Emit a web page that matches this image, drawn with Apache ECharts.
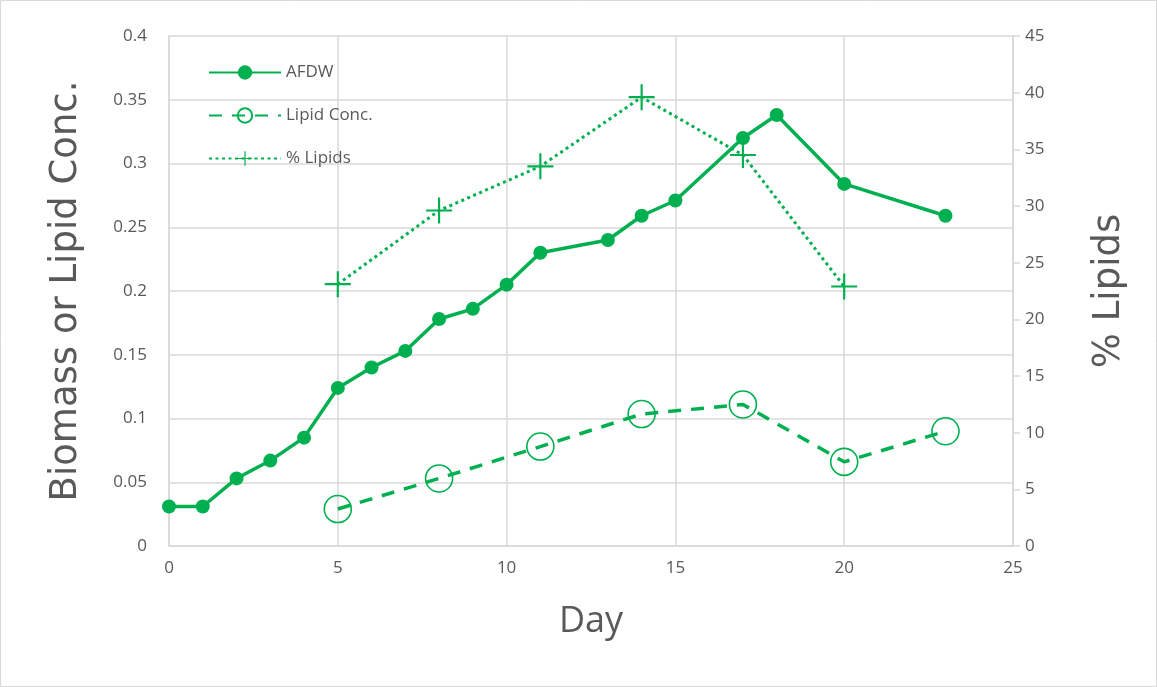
<!DOCTYPE html>
<html><head><meta charset="utf-8">
<script src="https://cdn.jsdelivr.net/npm/echarts@6/dist/echarts.min.js"></script>
<style>html,body{margin:0;padding:0;background:#fff}#c{width:1157px;height:687px}</style>
</head><body><div id="c"></div>
<script>
const afdwDays = [0,1,2,3,4,5,6,7,8,9,10,11,13,14,15,17,18,20,23];
const afdwVals = [0.031,0.031,0.053,0.067,0.085,0.124,0.140,0.153,0.178,0.186,0.205,0.230,0.240,0.259,0.271,0.320,0.338,0.284,0.259];
const lipidDays = [5,8,11,14,17,20,23];
const lipidConc = [0.029,0.053,0.078,0.1035,0.111,0.066,0.090];
const pctDays = [5,8,11,14,17,20];
const pctLipids = [23.1,29.6,33.5,39.6,34.5,22.9];
const xTicks = {min:0,max:25,interval:5};
const yLeft = {min:0,max:0.4,interval:0.05};
const yRight = {min:0,max:45,interval:5};

const green = '#00B050';
const grey = '#595959';
const gridCol = '#d9d9d9';
const pair = (xs, ys) => xs.map((x,i)=>[x, ys[i]]);
const crossPath = 'path://M-1,-12 L1,-12 L1,12 L-1,12 Z M-12,-1 L12,-1 L12,1 L-12,1 Z';

const chart = echarts.init(document.getElementById('c'), null, {renderer:'canvas'});
chart.setOption({
  animation:false,
  backgroundColor:'#fff',
  textStyle:{fontFamily:'Open Sans'},
  graphic:[{type:'rect',shape:{x:0.5,y:0.5,width:1156,height:686},style:{fill:'none',stroke:'#d9d9d9',lineWidth:1}}],
  grid:{left:169,right:144,top:36,bottom:141},
  legend:{
    orient:'vertical', left:203, top:59, itemGap:26, itemWidth:72, itemHeight:18,
    textStyle:{color:grey,fontSize:17,fontFamily:'Open Sans'},
    data:['AFDW','Lipid Conc.','% Lipids']
  },
  xAxis:{
    type:'value', min:xTicks.min, max:xTicks.max, interval:xTicks.interval,
    name:'Day', nameLocation:'middle', nameGap:58,
    nameTextStyle:{color:grey,fontSize:36,fontFamily:'Open Sans'},
    axisLine:{show:true,lineStyle:{color:gridCol,width:1.5}},
    axisTick:{show:false},
    axisLabel:{color:grey,fontSize:17,margin:14},
    splitLine:{show:true,lineStyle:{color:gridCol,width:1.5}}
  },
  yAxis:[{
    type:'value', min:yLeft.min, max:yLeft.max, interval:yLeft.interval,
    name:'Biomass or Lipid Conc.', nameLocation:'middle', nameGap:84,
    nameTextStyle:{color:grey,fontSize:37,fontFamily:'DejaVu Sans'},
    axisLine:{show:true,lineStyle:{color:gridCol,width:1.5}},
    axisTick:{show:false},
    axisLabel:{color:grey,fontSize:17,margin:22},
    splitLine:{show:true,lineStyle:{color:gridCol,width:1.5}}
  },{
    type:'value', position:'right', min:yRight.min, max:yRight.max, interval:yRight.interval,
    name:'% Lipids', nameLocation:'middle', nameGap:78, nameRotate:90,
    nameTextStyle:{color:grey,fontSize:37,fontFamily:'DejaVu Sans'},
    axisLine:{show:true,lineStyle:{color:gridCol,width:1.5}},
    axisTick:{show:true,length:7,lineStyle:{color:gridCol,width:1.5}},
    axisLabel:{color:grey,fontSize:17,margin:12},
    splitLine:{show:false}
  }],
  series:[{
    name:'AFDW', type:'line', yAxisIndex:0, data:pair(afdwDays,afdwVals),
    symbol:'circle', symbolSize:14,
    itemStyle:{color:green},
    lineStyle:{color:green,width:3.5}, z:3
  },{
    name:'Lipid Conc.', type:'line', yAxisIndex:0, data:pair(lipidDays,lipidConc),
    symbol:'circle', symbolSize:27,
    itemStyle:{color:'rgba(0,0,0,0)',borderColor:green,borderWidth:1.6},
    lineStyle:{color:green,width:3.5,type:[13,10]}, z:2
  },{
    name:'% Lipids', type:'line', yAxisIndex:1, data:pair(pctDays,pctLipids),
    symbol:crossPath, symbolSize:26,
    itemStyle:{color:green},
    lineStyle:{color:green,width:3,type:[3,3.5]}, z:2
  }]
});
</script></body></html>
